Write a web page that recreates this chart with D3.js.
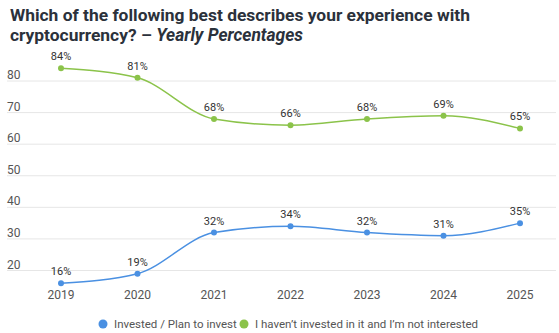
<!DOCTYPE html>
<html>
<head>
<meta charset="utf-8">
<script src="https://cdn.jsdelivr.net/npm/d3@7"></script>
<style>
  body { margin: 0; background: #fff; }
  svg { font-family: Roboto, "Noto Sans", sans-serif; }
</style>
</head>
<body>
<div id="vis1"></div>
<script>
const FRAME_WIDTH = 559;
const FRAME_HEIGHT = 333;

// data
const years = ["2019", "2020", "2021", "2022", "2023", "2024", "2025"];
const investedVals = [16, 19, 32, 34, 32, 31, 35];
const notInterestedVals = [84, 81, 68, 66, 68, 69, 65];
const seriesNames = ["Invested / Plan to invest", "I haven\u2019t invested in it and I\u2019m not interested"];
const yTicks = [20, 30, 40, 50, 60, 70, 80];

const COLORS = ["#4a90e2", "#8bc34a"];

const FRAME1 = d3.select("#vis1")
                  .append("svg")
                    .attr("width", FRAME_WIDTH)
                    .attr("height", FRAME_HEIGHT);

// title
const title = FRAME1.append("text")
    .attr("fill", "#2b313b")
    .attr("font-size", "17.4px")
    .attr("font-weight", "bold");
title.append("tspan").attr("x", 10).attr("y", 21)
    .text("Which of the following best describes your experience with");
title.append("tspan").attr("x", 10).attr("y", 41)
    .text("cryptocurrency? \u2013 ");
title.append("tspan").attr("font-style", "italic").text("Yearly Percentages");

const X_SCALE = d3.scalePoint()
                  .domain(years)
                  .range([61, 520]);

const Y_SCALE = d3.scaleLinear()
                  .domain([20, 80])
                  .range([270.5, 81]);

// gridlines + y labels
const grid = FRAME1.append("g");
grid.selectAll("line")
    .data(yTicks)
    .enter()
    .append("line")
      .attr("x1", 7)
      .attr("x2", 556)
      .attr("y1", d => Y_SCALE(d))
      .attr("y2", d => Y_SCALE(d))
      .attr("stroke", "#e6e6e6")
      .attr("stroke-width", 1);
grid.selectAll("text")
    .data(yTicks)
    .enter()
    .append("text")
      .attr("x", 7)
      .attr("y", d => Y_SCALE(d) - 2)
      .attr("font-size", "12px")
      .attr("fill", "#555")
      .text(d => d);

// x labels
FRAME1.append("g").selectAll("text")
    .data(years)
    .enter()
    .append("text")
      .attr("x", d => X_SCALE(d))
      .attr("y", 299)
      .attr("text-anchor", "middle")
      .attr("font-size", "12px")
      .attr("fill", "#555")
      .text(d => d);

const series = [investedVals, notInterestedVals];
const line = d3.line()
    .x((d, i) => X_SCALE(years[i]))
    .y(d => Y_SCALE(d))
    .curve(d3.curveMonotoneX);

series.forEach((vals, s) => {
  const g = FRAME1.append("g");
  g.append("path")
    .attr("d", line(vals))
    .attr("fill", "none")
    .attr("stroke", COLORS[s])
    .attr("stroke-width", 1.5);
  g.selectAll("circle")
    .data(vals)
    .enter()
    .append("circle")
      .attr("cx", (d, i) => X_SCALE(years[i]))
      .attr("cy", d => Y_SCALE(d))
      .attr("r", 3)
      .attr("fill", COLORS[s]);
  g.selectAll("text")
    .data(vals)
    .enter()
    .append("text")
      .attr("x", (d, i) => X_SCALE(years[i]))
      .attr("y", d => Y_SCALE(d) - 8)
      .attr("text-anchor", "middle")
      .attr("font-size", "11px")
      .attr("fill", "#333")
      .text(d => d + "%");
});

// legend
const legendX = [103, 244];
const legend = FRAME1.append("g");
seriesNames.forEach((name, s) => {
  legend.append("circle")
    .attr("cx", legendX[s])
    .attr("cy", 324)
    .attr("r", 4.5)
    .attr("fill", COLORS[s]);
  legend.append("text")
    .attr("x", legendX[s] + 11)
    .attr("y", 328)
    .attr("font-size", "11.5px")
    .attr("fill", "#555")
    .text(name);
});
</script>
</body>
</html>
